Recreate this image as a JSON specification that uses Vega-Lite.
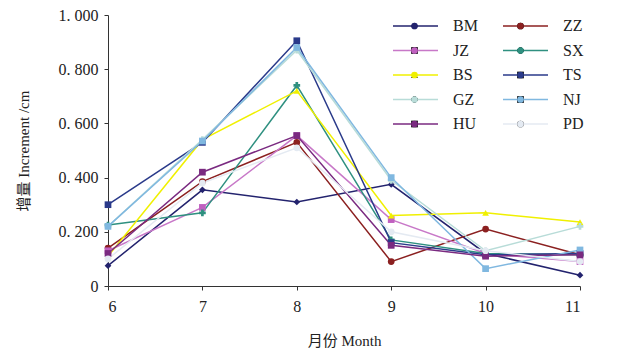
{
  "$schema": "https://vega.github.io/schema/vega-lite/v6.json",
  "width": 472,
  "height": 271,
  "autosize": {"type": "none"},
  "padding": {"left": 108, "top": 15, "right": 48, "bottom": 66},
  "background": "white",
  "config": {
    "view": {"stroke": null},
    "font": "Liberation Serif",
    "axis": {"labelFont": "Liberation Serif", "titleFont": "Liberation Serif, Noto Sans CJK SC", "labelFontSize": 16, "titleFontSize": 15, "titleFontWeight": "normal", "labelColor": "#222", "titleColor": "#222", "domainColor": "#333", "tickColor": "#333", "grid": false}
  },
  "data": {"values": [
    {"series": "BM", "month": 6, "value": 0.075}, {"series": "BM", "month": 7, "value": 0.355}, {"series": "BM", "month": 8, "value": 0.31}, {"series": "BM", "month": 9, "value": 0.375}, {"series": "BM", "month": 10, "value": 0.12}, {"series": "BM", "month": 11, "value": 0.04},
    {"series": "ZZ", "month": 6, "value": 0.14}, {"series": "ZZ", "month": 7, "value": 0.385}, {"series": "ZZ", "month": 8, "value": 0.53}, {"series": "ZZ", "month": 9, "value": 0.09}, {"series": "ZZ", "month": 10, "value": 0.21}, {"series": "ZZ", "month": 11, "value": 0.115},
    {"series": "JZ", "month": 6, "value": 0.13}, {"series": "JZ", "month": 7, "value": 0.29}, {"series": "JZ", "month": 8, "value": 0.555}, {"series": "JZ", "month": 9, "value": 0.245}, {"series": "JZ", "month": 10, "value": 0.12}, {"series": "JZ", "month": 11, "value": 0.09},
    {"series": "SX", "month": 6, "value": 0.225}, {"series": "SX", "month": 7, "value": 0.27}, {"series": "SX", "month": 8, "value": 0.74}, {"series": "SX", "month": 9, "value": 0.17}, {"series": "SX", "month": 10, "value": 0.12}, {"series": "SX", "month": 11, "value": 0.115},
    {"series": "BS", "month": 6, "value": 0.11}, {"series": "BS", "month": 7, "value": 0.54}, {"series": "BS", "month": 8, "value": 0.72}, {"series": "BS", "month": 9, "value": 0.26}, {"series": "BS", "month": 10, "value": 0.27}, {"series": "BS", "month": 11, "value": 0.236},
    {"series": "TS", "month": 6, "value": 0.30}, {"series": "TS", "month": 7, "value": 0.53}, {"series": "TS", "month": 8, "value": 0.905}, {"series": "TS", "month": 9, "value": 0.16}, {"series": "TS", "month": 10, "value": 0.115}, {"series": "TS", "month": 11, "value": 0.12},
    {"series": "GZ", "month": 6, "value": 0.22}, {"series": "GZ", "month": 7, "value": 0.54}, {"series": "GZ", "month": 8, "value": 0.87}, {"series": "GZ", "month": 9, "value": 0.39}, {"series": "GZ", "month": 10, "value": 0.13}, {"series": "GZ", "month": 11, "value": 0.22},
    {"series": "NJ", "month": 6, "value": 0.22}, {"series": "NJ", "month": 7, "value": 0.535}, {"series": "NJ", "month": 8, "value": 0.88}, {"series": "NJ", "month": 9, "value": 0.40}, {"series": "NJ", "month": 10, "value": 0.064}, {"series": "NJ", "month": 11, "value": 0.133},
    {"series": "HU", "month": 6, "value": 0.12}, {"series": "HU", "month": 7, "value": 0.42}, {"series": "HU", "month": 8, "value": 0.555}, {"series": "HU", "month": 9, "value": 0.15}, {"series": "HU", "month": 10, "value": 0.11}, {"series": "HU", "month": 11, "value": 0.115},
    {"series": "PD", "month": 6, "value": 0.10}, {"series": "PD", "month": 7, "value": 0.38}, {"series": "PD", "month": 8, "value": 0.51}, {"series": "PD", "month": 9, "value": 0.20}, {"series": "PD", "month": 10, "value": 0.13}, {"series": "PD", "month": 11, "value": 0.09}
  ]},
  "encoding": {
    "x": {"field": "month", "type": "quantitative", "scale": {"domain": [6, 11], "nice": false, "zero": false},
      "axis": {"values": [6, 7, 8, 9, 10, 11], "format": "d", "title": "月份 Month", "tickSize": 4, "labelPadding": 8, "titlePadding": 19}},
    "y": {"field": "value", "type": "quantitative", "scale": {"domain": [0, 1], "nice": false},
      "axis": {"values": [0, 0.2, 0.4, 0.6, 0.8, 1.0], "labelExpr": "datum.value == 0 ? '0' : replace(format(datum.value, '.3f'), '.', '. ')", "title": "增量 Increment /cm", "tickSize": 4, "labelPadding": 6, "titlePadding": 27}}
  },
  "layer": [
    {"mark": {"type": "line", "strokeWidth": 1.5},
     "encoding": {
       "stroke": {"field": "series", "type": "nominal",
         "scale": {"domain": ["BM", "JZ", "BS", "GZ", "HU", "ZZ", "SX", "TS", "NJ", "PD"],
                   "range": ["#23236e", "#c878c8", "#f0f000", "#b8dcd8", "#7a2a80", "#8b2020", "#2f9080", "#2a3a8a", "#80b8e0", "#e4eaf2"]},
         "legend": {"title": null, "orient": "none", "legendX": 280, "legendY": 3, "columns": 2, "columnPadding": 20, "rowPadding": 8.5, "labelFont": "Liberation Serif", "labelFontSize": 16, "labelColor": "#222", "labelOffset": 49, "symbolType": "M-1.5,0H21", "symbolSize": 16, "symbolStrokeWidth": 1.5}}
     }},
    {"mark": {"type": "point", "filled": true, "size": 45, "opacity": 1},
     "encoding": {
       "fill": {"field": "series", "type": "nominal",
         "sort": ["BM", "JZ", "BS", "GZ", "HU", "ZZ", "SX", "TS", "NJ", "PD"],
         "scale": {"range": ["#23236e", "#c060c0", "#f0f000", "#b8dcd8", "#7a2a80", "#8b2020", "#2f9080", "#2a3a8a", "#80b8e0", "#e4eaf2"]},
         "legend": {"title": null, "orient": "none", "legendX": 298.5, "legendY": 3, "columns": 2, "columnPadding": 80, "rowPadding": 8.5, "labelExpr": "''", "labelFontSize": 16, "labelOffset": 10, "symbolSize": 45, "symbolStrokeWidth": 0}},
       "shape": {"field": "series", "type": "nominal",
         "sort": ["BM", "JZ", "BS", "GZ", "HU", "ZZ", "SX", "TS", "NJ", "PD"],
         "scale": {"range": ["diamond", "square", "triangle-up", "cross", "square", "circle", "cross", "square", "square", "circle"]},
         "legend": {"title": null, "orient": "none", "legendX": 298.5, "legendY": 3, "columns": 2, "columnPadding": 80, "rowPadding": 8.5, "labelExpr": "''", "labelFontSize": 16, "labelOffset": 10, "symbolSize": 45, "symbolStrokeWidth": 0}}
     }}
  ],
  "resolve": {"scale": {"fill": "independent", "shape": "independent", "stroke": "independent"}}
}
